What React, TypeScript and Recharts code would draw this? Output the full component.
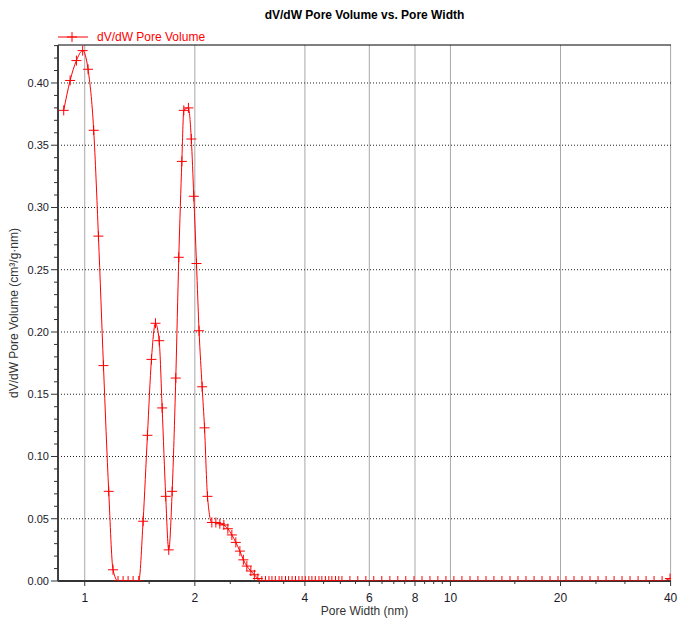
import {
  LineChart,
  Line,
  XAxis,
  YAxis,
  ReferenceLine,
  Label,
} from 'recharts';

// pore width (nm)
const poreWidth = [
  0.876, 0.912, 0.949, 0.987, 1.021, 1.058, 1.09, 1.125, 1.163, 1.195,
  1.233, 1.273, 1.314, 1.356, 1.405,
  1.444, 1.484, 1.522, 1.561, 1.598, 1.628, 1.665, 1.697, 1.734, 1.774,
  1.808, 1.843, 1.866, 1.921, 1.956, 1.987, 2.021, 2.054, 2.094, 2.126,
  2.166, 2.226, 2.283, 2.341, 2.401, 2.462, 2.525, 2.589, 2.656, 2.715,
  2.775, 2.846, 2.909, 2.974,
  3.05, 3.12, 3.19, 3.25, 3.32, 3.4, 3.46, 3.54, 3.61, 3.69,
  3.77, 3.85, 3.93, 4.01, 4.1, 4.18, 4.27, 4.37, 4.45, 4.55,
  4.65, 4.74, 4.85, 4.95, 5.05,
  5.31, 5.58, 5.87, 6.17, 6.49, 6.83, 7.18, 7.55, 7.95, 8.36,
  8.79, 9.24, 9.72, 10.22, 10.75, 11.31, 11.89, 12.51, 13.15, 13.83,
  14.55, 15.3, 16.09, 16.93, 17.8, 18.72, 19.69, 20.7, 21.77, 22.9,
  24.08, 25.33, 26.64, 28.02, 29.46, 30.98, 32.59, 34.27, 36.04, 37.91,
  39.86,
];

// dV/dW pore volume (cm³/g·nm)
const poreVolume = [
  0.378, 0.402, 0.418, 0.426, 0.411, 0.362, 0.277, 0.173, 0.072, 0.009,
  0, 0, 0, 0, 0,
  0.048, 0.117, 0.178, 0.207, 0.193, 0.139, 0.068, 0.025, 0.072, 0.163,
  0.26, 0.337, 0.378, 0.38, 0.355, 0.309, 0.255, 0.201, 0.156, 0.123,
  0.068, 0.047, 0.047, 0.046, 0.045, 0.042, 0.037, 0.031, 0.024, 0.017,
  0.012, 0.008, 0.005, 0.002,
  0, 0, 0, 0, 0, 0, 0, 0, 0, 0,
  0, 0, 0, 0, 0, 0, 0, 0, 0, 0,
  0, 0, 0, 0, 0,
  0, 0, 0, 0, 0, 0, 0, 0, 0, 0,
  0, 0, 0, 0, 0, 0, 0, 0, 0, 0,
  0, 0, 0, 0, 0, 0, 0, 0, 0, 0,
  0, 0, 0, 0, 0, 0, 0, 0, 0, 0,
  0.002,
];

const xMajorTicks = [1, 2, 4, 6, 8, 10, 20, 40];
const xMinorTicks = [1.5, 2.5, 3, 3.5, 4.5, 5, 5.5, 6.5, 7, 7.5, 8.5, 9, 9.5, 15, 25, 30, 35];
const yMajorTicks = [0, 0.05, 0.1, 0.15, 0.2, 0.25, 0.3, 0.35, 0.4];
const yMinorTicks = Array.from({length: 44}, (_, i) => i / 100);

const X_DOMAIN: [number, number] = [0.845, 40.1];
const Y_MAX = 0.4305;

const data = poreWidth.map((w, i) => ({w, v: poreVolume[i]}));

const FONT = 'Arial, "Liberation Sans", sans-serif';
const RED = '#ff0000';

function Cross(props: any) {
  const {cx, cy, index} = props;
  if (cx == null || cy == null) return <g key={index} />;
  return (
    <path
      key={index}
      d={`M${cx - 5},${cy}h10M${cx},${cy - 5}v10`}
      stroke={RED}
      strokeWidth={1}
      fill="none"
    />
  );
}

function XTick(props: any) {
  const {x, y, payload} = props;
  const major = xMajorTicks.includes(payload.value);
  return (
    <g>
      <line x1={x} x2={x} y1={y} y2={y + (major ? 5 : 3)} stroke="#333" />
      {major && (
        <text x={x} y={y + 21} textAnchor="middle" fontSize={12} fontFamily={FONT} fill="#1a1a2a">
          {payload.value}
        </text>
      )}
    </g>
  );
}

function YTick(props: any) {
  const {x, y, payload} = props;
  const v = payload.value as number;
  const major = Math.abs(v * 20 - Math.round(v * 20)) < 1e-6;
  return (
    <g>
      <line x1={x - (major ? 7 : 4)} x2={x} y1={y} y2={y} stroke="#333" />
      {major && (
        <text x={x - 9} y={y} dy="0.35em" textAnchor="end" fontSize={11} fontFamily={FONT} fill="#1a1a2a">
          {v.toFixed(2)}
        </text>
      )}
    </g>
  );
}

export default function App() {
  return (
    <div style={{position: 'absolute', left: 0, top: 0, width: 687, height: 628, background: '#fff', fontFamily: FONT}}>
      <div
        style={{
          position: 'absolute',
          left: 58,
          width: 613,
          top: 8,
          textAlign: 'center',
          fontSize: 12,
          fontWeight: 'bold',
          color: '#000',
        }}
      >
        dV/dW Pore Volume vs. Pore Width
      </div>
      <div style={{position: 'absolute', left: 58, top: 29, display: 'flex', alignItems: 'center', height: 16}}>
        <svg width={32} height={14}>
          <line x1={0} x2={30} y1={7} y2={7} stroke={RED} />
          <path d="M14,7h0M14,2v10M9,7h10" stroke={RED} fill="none" />
        </svg>
        <span style={{marginLeft: 7, fontSize: 12, color: RED}}>dV/dW Pore Volume</span>
      </div>
      <LineChart width={687} height={628} data={data} margin={{top: 45, right: 16, bottom: 0, left: 0}}>
        {xMajorTicks.map((t) => (
          <ReferenceLine key={`vx${t}`} x={t} stroke="#a8a8a8" strokeWidth={1} />
        ))}
        {yMajorTicks.slice(1).map((t) => (
          <ReferenceLine key={`hy${t}`} y={t} stroke="#222" strokeDasharray="1 2" />
        ))}
        <ReferenceLine y={Y_MAX} stroke="#000" strokeWidth={1} />
        <XAxis
          dataKey="w"
          type="number"
          scale="log"
          domain={X_DOMAIN}
          allowDataOverflow
          ticks={[...xMajorTicks, ...xMinorTicks]}
          interval={0}
          tick={<XTick />}
          tickSize={0}
          tickMargin={0}
          tickLine={false}
          height={47}
          axisLine={{stroke: '#333', strokeWidth: 2}}
        >
          <Label
            content={(p: any) => {
              const vb = p.viewBox;
              return (
                <text x={vb.x + vb.width / 2} y={vb.y + 34} textAnchor="middle" fontSize={12} fontFamily={FONT} fill="#333">
                  Pore Width (nm)
                </text>
              );
            }}
          />
        </XAxis>
        <YAxis
          type="number"
          domain={[0, Y_MAX]}
          allowDataOverflow
          ticks={yMinorTicks}
          interval={0}
          tick={<YTick />}
          tickSize={0}
          tickMargin={0}
          tickLine={false}
          width={58}
          axisLine={{stroke: '#404040', strokeWidth: 2}}
        >
          <Label
            content={(p: any) => {
              const vb = p.viewBox;
              const cx = 14;
              const cy = vb.y + vb.height / 2;
              return (
                <text
                  x={cx}
                  y={cy}
                  transform={`rotate(-90, ${cx}, ${cy})`}
                  textAnchor="middle"
                  dy="0.35em"
                  fontSize={12}
                  fontFamily={FONT}
                  fill="#333"
                >
                  dV/dW Pore Volume (cm³/g·nm)
                </text>
              );
            }}
          />
        </YAxis>
        <Line
          type="monotone"
          dataKey="v"
          stroke={RED}
          strokeWidth={1}
          dot={Cross}
          activeDot={false}
          isAnimationActive={false}
        />
      </LineChart>
    </div>
  );
}
